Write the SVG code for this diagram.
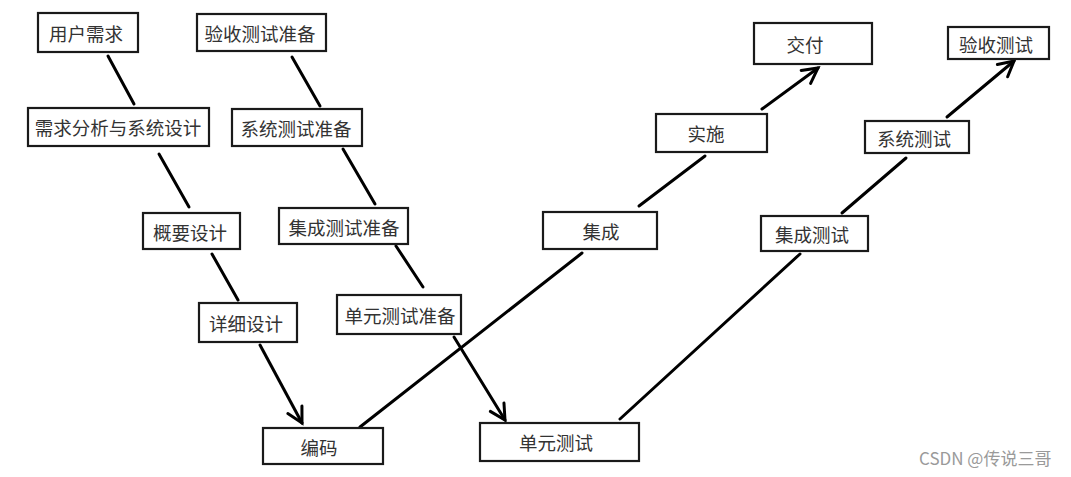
<svg xmlns="http://www.w3.org/2000/svg" width="1071" height="477" viewBox="0 0 1071 477">
<style>
.box{fill:#fff;stroke:#1a1a1a;stroke-width:2.2}
.t{font-family:"Noto Sans CJK SC","Noto Sans",sans-serif;font-size:18.5px;fill:#333;text-anchor:middle;dominant-baseline:central}
.c{stroke:#000;stroke-width:3;fill:none;stroke-linecap:round}
.wm{font-family:"Noto Sans CJK SC","Noto Sans",sans-serif;font-size:17px;fill:#9a9a9a}
</style>
<defs>
<marker id="arr" markerUnits="userSpaceOnUse" viewBox="-20 -12 24 24" refX="0" refY="0" markerWidth="24" markerHeight="24" orient="auto">
<path d="M-15,-8 L0,0 L-15,8" fill="none" stroke="#000" stroke-width="3" stroke-linejoin="miter" stroke-linecap="round"/>
</marker>
</defs>
<rect width="1071" height="477" fill="#fff"/>
<g id="connectors">
<line class="c" x1="108" y1="56" x2="134" y2="104"/>
<line class="c" x1="159" y1="154" x2="189" y2="207"/>
<line class="c" x1="212" y1="254" x2="238" y2="300"/>
<line class="c" x1="260" y1="345" x2="302" y2="423" marker-end="url(#arr)"/>
<line class="c" x1="292" y1="57" x2="320" y2="106"/>
<line class="c" x1="343" y1="149" x2="375" y2="204"/>
<line class="c" x1="396" y1="246" x2="423" y2="287"/>
<line class="c" x1="454" y1="337" x2="505" y2="420" marker-end="url(#arr)"/>
<line class="c" x1="360" y1="427" x2="582" y2="253"/>
<line class="c" x1="639" y1="206" x2="705" y2="156"/>
<line class="c" x1="762" y1="109" x2="818" y2="68" marker-end="url(#arr)"/>
<line class="c" x1="620" y1="419" x2="800" y2="254"/>
<line class="c" x1="842" y1="213" x2="906" y2="158"/>
<line class="c" x1="947" y1="117" x2="1014" y2="61" marker-end="url(#arr)"/>
</g>
<g id="n1"><rect class="box" x="38" y="13" width="100" height="39"/><text class="t" x="86" y="33">用户需求</text></g>
<g id="n2"><rect class="box" x="28" y="108" width="181" height="38"/><text class="t" x="118" y="127">需求分析与系统设计</text></g>
<g id="n3"><rect class="box" x="143" y="213" width="97" height="36"/><text class="t" x="190" y="232">概要设计</text></g>
<g id="n4"><rect class="box" x="199" y="303" width="98" height="39"/><text class="t" x="246" y="323">详细设计</text></g>
<g id="n5"><rect class="box" x="263" y="428" width="120" height="36"/><text class="t" x="319" y="447">编码</text></g>
<g id="n6"><rect class="box" x="197" y="14" width="129" height="37"/><text class="t" x="260" y="33">验收测试准备</text></g>
<g id="n7"><rect class="box" x="232" y="109" width="130" height="37"/><text class="t" x="296" y="128">系统测试准备</text></g>
<g id="n8"><rect class="box" x="279" y="208" width="129" height="36"/><text class="t" x="344" y="227">集成测试准备</text></g>
<g id="n9"><rect class="box" x="337" y="295" width="124" height="39"/><text class="t" x="400" y="315">单元测试准备</text></g>
<g id="n10"><rect class="box" x="480" y="423" width="159" height="38"/><text class="t" x="556" y="442">单元测试</text></g>
<g id="n11"><rect class="box" x="543" y="212" width="114" height="37"/><text class="t" x="601" y="231">集成</text></g>
<g id="n12"><rect class="box" x="656" y="114" width="111" height="38"/><text class="t" x="706" y="133">实施</text></g>
<g id="n13"><rect class="box" x="754" y="23" width="118" height="41"/><text class="t" x="805" y="44">交付</text></g>
<g id="n14"><rect class="box" x="761" y="216" width="107" height="35"/><text class="t" x="812" y="234">集成测试</text></g>
<g id="n15"><rect class="box" x="865" y="121" width="104" height="32"/><text class="t" x="914" y="138">系统测试</text></g>
<g id="n16"><rect class="box" x="948" y="27" width="101" height="32"/><text class="t" x="996" y="44">验收测试</text></g>
<text class="wm" x="919" y="465">CSDN @传说三哥</text>
</svg>
